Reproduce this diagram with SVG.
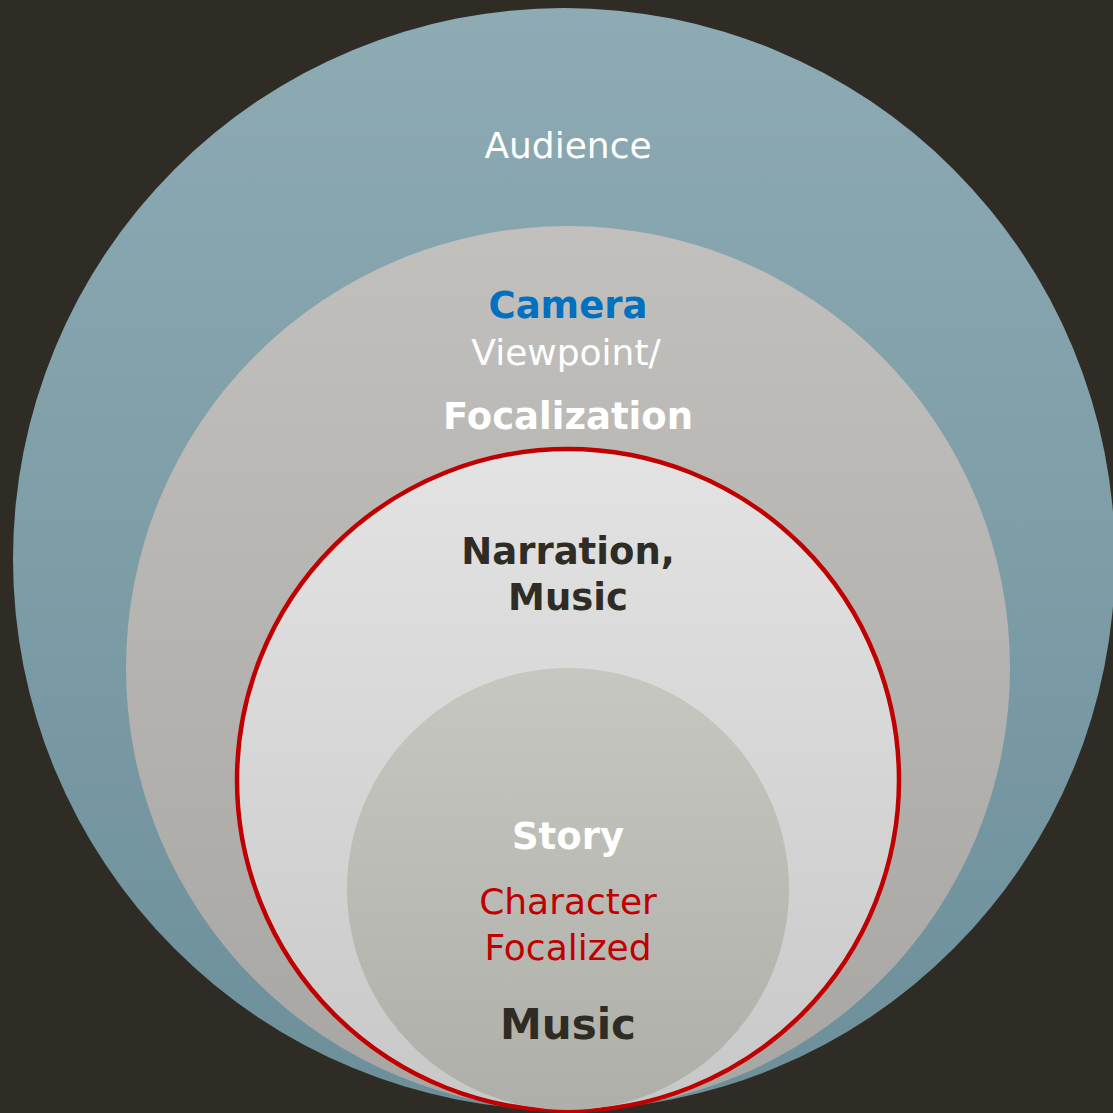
<svg xmlns="http://www.w3.org/2000/svg" width="1113" height="1113" viewBox="0 0 1113 1113">
  <defs>
    <linearGradient id="gOuter" x1="0" y1="0" x2="0" y2="1">
      <stop offset="0" stop-color="#8eabb4"/>
      <stop offset="1" stop-color="#6c8f9a"/>
    </linearGradient>
    <linearGradient id="gSecond" x1="0" y1="0" x2="0" y2="1">
      <stop offset="0" stop-color="#c1c0bc"/>
      <stop offset="1" stop-color="#a8a6a2"/>
    </linearGradient>
    <linearGradient id="gRed" x1="0" y1="0" x2="0" y2="1">
      <stop offset="0" stop-color="#e3e3e3"/>
      <stop offset="1" stop-color="#c8c8c8"/>
    </linearGradient>
    <linearGradient id="gInner" x1="0" y1="0" x2="0" y2="1">
      <stop offset="0" stop-color="#c7c7c1"/>
      <stop offset="1" stop-color="#afafa9"/>
    </linearGradient>
  </defs>
  <style>
    text { font-family: "DejaVu Sans", "Liberation Sans", sans-serif; text-anchor: middle; }
    .reg { font-weight: normal; font-size: 36px; }
    .bold { font-weight: bold; font-size: 37px; }
    .white { fill: #ffffff; }
    .dark { fill: #2f2c26; }
    .blue { fill: #0070c0; }
    .red { fill: #c00000; }
  </style>
  <rect x="0" y="0" width="1113" height="1113" fill="#2f2c26"/>
  <g id="audience">
    <circle cx="564" cy="559" r="551" fill="url(#gOuter)"/>
    <text x="568" y="158" class="reg white">Audience</text>
  </g>
  <g id="camera">
    <circle cx="568" cy="668" r="442" fill="url(#gSecond)"/>
    <text x="568" y="318" class="bold blue">Camera</text>
    <text x="566" y="365" class="reg white">Viewpoint/</text>
    <text x="568" y="429" class="bold white">Focalization</text>
  </g>
  <g id="narration">
    <circle cx="568" cy="780" r="331" fill="url(#gRed)" stroke="#c00000" stroke-width="4.5"/>
    <text x="568" y="564" class="bold dark">Narration,</text>
    <text x="568" y="610" class="bold dark">Music</text>
  </g>
  <g id="story">
    <circle cx="568" cy="889" r="221" fill="url(#gInner)"/>
    <text x="568" y="849" class="bold white">Story</text>
    <text x="568" y="914" class="reg red">Character</text>
    <text x="568" y="960" class="reg red">Focalized</text>
    <text x="568" y="1039" class="bold dark" style="font-size:42px">Music</text>
  </g>
  <g id="connectors"/>
</svg>
